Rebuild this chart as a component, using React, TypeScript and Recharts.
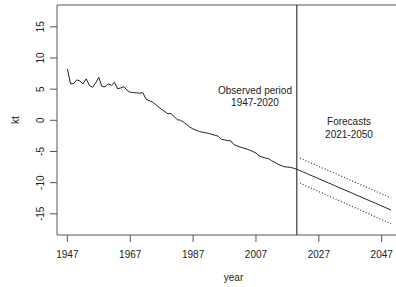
import React from 'react';
import { LineChart, Line, XAxis, YAxis, ReferenceLine } from 'recharts';

const firstYear = 1947;

const observed = [
  8.25, 5.85, 5.9, 6.5, 6.3, 5.85, 6.65, 5.6, 5.3, 6.0,
  6.9, 5.4, 5.4, 5.85, 5.6, 6.1, 5.05, 5.2, 5.4, 4.8,
  4.5, 4.45, 4.4, 4.35, 4.45, 3.4, 3.15, 2.95, 2.55, 2.15,
  1.75, 1.4, 1.05, 1.1, 0.55, 0.1, 0.0, -0.3, -0.7, -1.1,
  -1.4, -1.6, -1.8, -1.9, -2.0, -2.1, -2.25, -2.4, -2.55, -3.05,
  -3.15, -3.25, -3.3, -3.9, -4.1, -4.3, -4.45, -4.6, -4.8, -5.0,
  -5.25, -5.7, -5.9, -6.05, -6.15, -6.5, -6.75, -7.05, -7.25, -7.45,
  -7.5, -7.55, -7.7, -7.85,
];

const forecastMean = [
  -8.07, -8.29, -8.51, -8.73, -8.94, -9.16, -9.38, -9.6, -9.82, -10.03,
  -10.25, -10.47, -10.69, -10.91, -11.12, -11.34, -11.56, -11.78, -12.0, -12.21,
  -12.43, -12.65, -12.87, -13.09, -13.3, -13.52, -13.74, -13.96, -14.18, -14.4,
];

const forecastUpper = [
  -6.07, -6.29, -6.51, -6.73, -6.95, -7.17, -7.39, -7.61, -7.83, -8.05,
  -8.27, -8.49, -8.71, -8.93, -9.15, -9.37, -9.59, -9.81, -10.03, -10.25,
  -10.47, -10.69, -10.91, -11.13, -11.35, -11.57, -11.79, -12.01, -12.23, -12.45,
];

const forecastLower = [
  -10.07, -10.3, -10.52, -10.75, -10.97, -11.2, -11.42, -11.65, -11.87, -12.1,
  -12.32, -12.55, -12.77, -13.0, -13.22, -13.45, -13.67, -13.9, -14.12, -14.35,
  -14.57, -14.8, -15.02, -15.25, -15.47, -15.7, -15.92, -16.15, -16.37, -16.6,
];

const xTicks = [1947, 1967, 1987, 2007, 2027, 2047];
const yTicks = [-15, -10, -5, 0, 5, 10, 15];
const splitYear = 2020;

const lastObsYear = firstYear + observed.length - 1;

const rows: any[] = [
  ...observed.map((v, i) => ({
    year: firstYear + i,
    obs: v,
    // anchor forecast line to the last observation so it is continuous
    fc: i === observed.length - 1 ? v : undefined,
  })),
  ...forecastMean.map((v, i) => ({
    year: lastObsYear + 1 + i,
    fc: v,
    hi: forecastUpper[i],
    lo: forecastLower[i],
  })),
];

const font = '"Liberation Sans", Arial, sans-serif';
const axisColor = '#555';

const XTick = ({ x, y, payload }: any) => (
  <text x={x} y={y + 15.5} textAnchor="middle" fontSize={10} fontFamily={font} fill="#222">
    {payload.value}
  </text>
);

const YTick = ({ x, y, payload }: any) => (
  <text
    x={x - 6}
    y={y}
    textAnchor="middle"
    fontSize={10}
    fontFamily={font}
    fill="#222"
    transform={`rotate(-90, ${x - 6}, ${y})`}
  >
    {payload.value}
  </text>
);

export default function App() {
  return (
    <div style={{ position: 'absolute', left: 0, top: 0, width: 396, height: 287, overflow: 'hidden', background: '#fff' }}>
      <LineChart width={420} height={287} data={rows} margin={{ top: 5, right: 10, bottom: 0, left: 0 }}>
        <XAxis
          dataKey="year"
          type="number"
          domain={[1943.7, 2056]}
          allowDataOverflow
          ticks={xTicks}
          tick={<XTick />}
          tickSize={7}
          tickMargin={0}
          height={52}
          stroke={axisColor}
          label={{ value: 'year', position: 'insideBottom', offset: 6, fontSize: 10, fontFamily: font, fill: '#222' }}
        />
        <YAxis
          type="number"
          domain={[-18.4, 18.5]}
          allowDataOverflow
          ticks={yTicks}
          tick={<YTick />}
          tickSize={7}
          tickMargin={0}
          width={57}
          stroke={axisColor}
        />
        <ReferenceLine y={18.5} stroke={axisColor} />
        <ReferenceLine x={splitYear} stroke="#111" />
        <Line dataKey="obs" stroke="#222" strokeWidth={1} dot={false} isAnimationActive={false} connectNulls={false} />
        <Line dataKey="fc" stroke="#222" strokeWidth={1} dot={false} isAnimationActive={false} />
        <Line dataKey="hi" stroke="#444" strokeWidth={1.3} strokeDasharray="1 2" dot={false} isAnimationActive={false} />
        <Line dataKey="lo" stroke="#444" strokeWidth={1.3} strokeDasharray="1 2" dot={false} isAnimationActive={false} />
        <text x={15} y={120} textAnchor="middle" fontSize={10} fontFamily={font} fill="#222" transform="rotate(-90, 15, 120)" dy={3.5}>
          kt
        </text>
        <text x={255} y={93.5} textAnchor="middle" fontSize={10} fontFamily={font} fill="#222">Observed period</text>
        <text x={255} y={105.5} textAnchor="middle" fontSize={10} fontFamily={font} fill="#222">1947-2020</text>
        <text x={349} y={124.5} textAnchor="middle" fontSize={10} fontFamily={font} fill="#222">Forecasts</text>
        <text x={349} y={137.5} textAnchor="middle" fontSize={10} fontFamily={font} fill="#222">2021-2050</text>
      </LineChart>
    </div>
  );
}
